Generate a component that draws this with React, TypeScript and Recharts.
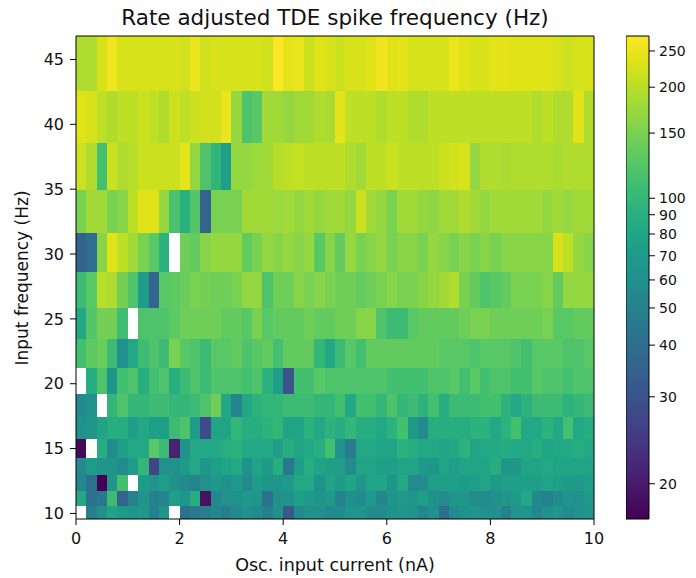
import * as React from "react";
import { ComposedChart, ReferenceArea, XAxis, YAxis } from "recharts";

// Osc. input current grid (nA), 50 columns of 0.2 nA
const currents = Array.from({ length: 50 }, (_, i) => +(i * 0.2).toFixed(1));
const colWidth = 0.2;

// row edges of the input frequency grid (Hz), bottom to top
const freqEdges = [
  9.57, 10.59, 11.75, 12.99, 14.28, 15.75, 17.41, 19.22, 21.23, 23.47, 25.86,
  28.59, 31.62, 34.97, 38.57, 42.59, 46.81,
];

// rate adjusted TDE spike frequency (Hz), one array per input frequency row
const hz10 = [null, 48, 61, 78, 71, 65, 69, 50, 65, null, 42, 45, 48, 54, 48, 57, 61, 57, 50, 61, 32, 57, 61, 61, 57, 57, 65, 65, 57, 57, 61, 65, 61, 54, 61, 40, 57, 61, 65, 61, 61, 50, 65, 65, 54, 61, 65, 57, 61, 65];
const hz11 = [82, 42, 45, 106, 36, 50, 65, 50, 52, 73, 65, 88, 19, 54, 61, 61, 69, 65, 42, 61, 61, 73, 69, 65, 69, 50, 61, 57, 69, 54, 65, 69, 65, 73, 61, 57, 65, 65, 57, 57, 61, 65, 69, 82, 54, 50, 57, 65, 61, 69];
const hz12 = [54, 40, 17, 65, 111, null, 71, 65, 73, 61, 57, 52, 61, 69, 61, 69, 57, 71, 65, 65, 69, 82, 82, 61, 78, 69, 78, 65, 78, 78, 65, 82, 57, 57, 73, 73, 73, 71, 73, 78, 69, 73, 73, 73, 73, 78, 73, 71, 69, 73];
const hz13 = [57, 71, 65, 65, 57, 71, 99, 27, 61, 61, 69, 82, 65, 73, 78, 82, 61, 78, 69, 88, 45, 73, 88, 78, 73, 73, 57, 78, 78, 73, 73, 78, 78, 69, 65, 78, 73, 78, 78, 78, 88, 65, 65, 78, 78, 82, 78, 78, 78, 78];
const hz15 = [18, null, 88, 57, 73, 82, 82, 125, 106, 21, 61, 82, 82, 82, 88, 93, 82, 82, 82, 73, 88, 78, 82, 88, 111, 61, 47, 82, 82, 78, 78, 93, 88, 82, 82, 78, 82, 93, 78, 82, 82, 88, 82, 82, 88, 78, 82, 82, 88, 82];
const hz16 = [61, 65, 78, 88, 88, 73, 82, 73, 73, 106, 118, 71, 28, 78, 78, 99, 88, 88, 93, 99, 78, 78, 93, 82, 93, 88, 99, 88, 88, 82, 93, 111, 69, 57, 88, 88, 88, 88, 93, 93, 82, 93, 111, 82, 82, 93, 82, 111, 82, 88];
const hz18 = [57, 61, null, 99, 118, 99, 99, 106, 106, 99, 99, 106, 118, 142, 82, 52, 82, 93, 99, 99, 106, 106, 106, 99, 99, 111, 82, 111, 111, 99, 118, 99, 106, 93, 111, 88, 106, 106, 106, 111, 111, 93, 82, 93, 106, 106, 106, 93, 99, 106];
const hz20 = [null, 88, 118, 65, 111, 118, 88, 111, 118, 88, 106, 118, 106, 118, 118, 118, 111, 118, 93, 73, 30, 111, 111, 125, 118, 118, 118, 118, 118, 118, 111, 111, 111, 111, 118, 118, 125, 111, 125, 111, 118, 118, 111, 111, 125, 118, 118, 111, 118, 118];
const hz22 = [111, 129, 137, 106, 61, 82, 106, 118, 106, 150, 125, 118, 106, 125, 125, 133, 118, 125, 133, 111, 133, 133, 133, 99, 82, 106, 125, 111, 133, 133, 133, 133, 133, 133, 133, 125, 125, 125, 118, 125, 125, 125, 118, 111, 125, 125, 125, 118, 118, 125];
const hz25 = [82, 122, 146, 146, 108, null, 118, 118, 118, 129, 142, 142, 142, 142, 133, 133, 125, 150, 125, 133, 133, 133, 142, 133, 133, 142, 142, 160, 160, 118, 106, 106, 125, 133, 133, 133, 133, 142, 150, 150, 142, 142, 142, 142, 142, 150, 125, 125, 133, 133];
const hz27 = [106, 125, 198, 191, 146, 118, 71, 36, 125, 129, 137, 150, 146, 142, 142, 150, 170, 170, 118, 142, 142, 160, 150, 160, 150, 142, 142, 133, 142, 150, 160, 150, 150, 160, 170, 180, 191, 150, 133, 118, 125, 133, 150, 150, 150, 160, 133, 170, 170, 170];
const hz30 = [36, 40, 160, 236, 204, 180, 150, 125, 93, null, 142, 133, 160, 170, 170, 170, 133, 150, 170, 160, 170, 160, 170, 125, 160, 133, 170, 150, 160, 170, 150, 160, 160, 150, 170, 160, 150, 160, 150, 160, 150, 160, 160, 160, 160, 160, 229, 204, 170, 160];
const hz33 = [150, 180, 180, 150, 160, 204, 236, 236, 170, 115, 90, 122, 36, 150, 150, 150, 180, 180, 180, 175, 180, 170, 180, 170, 180, 180, 170, 216, 180, 170, 150, 180, 180, 170, 165, 180, 180, 191, 180, 170, 180, 180, 180, 180, 180, 170, 180, 170, 180, 180];
const hz37 = [216, 191, 111, 216, 191, 198, 216, 216, 216, 216, 243, 170, 118, 97, 73, 170, 170, 175, 180, 198, 204, 210, 204, 204, 204, 204, 191, 180, 204, 204, 216, 204, 204, 204, 204, 216, 222, 229, 170, 191, 191, 186, 191, 191, 191, 191, 186, 191, 191, 191];
const hz41 = [236, 229, 204, 191, 204, 204, 216, 204, 191, 216, 204, 216, 222, 222, 251, 170, 118, 125, 180, 180, 170, 180, 180, 191, 186, 243, 204, 204, 204, 191, 204, 204, 191, 191, 204, 204, 204, 204, 204, 204, 204, 204, 204, 204, 191, 204, 191, 191, 236, 191];
const hz45 = [191, 191, 229, 258, 229, 229, 229, 229, 229, 229, 222, 251, 222, 229, 229, 229, 229, 229, 222, 270, 243, 251, 216, 236, 229, 216, 229, 229, 236, 258, 236, 243, 229, 229, 229, 229, 251, 236, 229, 229, 243, 243, 236, 236, 236, 236, 229, 216, 229, 229];

const rows = [hz10, hz11, hz12, hz13, hz15, hz16, hz18, hz20, hz22, hz25, hz27, hz30, hz33, hz37, hz41, hz45];

const xTicks = [0, 2, 4, 6, 8, 10];
const yTicks = [10, 15, 20, 25, 30, 35, 40, 45];
const cbTicks = [20, 30, 40, 50, 60, 70, 80, 90, 100, 150, 200, 250];

// colour normalisation (value -> 0..1)
const normStops: [number, number][] = [
  [17.2, 0], [20, 0.073], [30, 0.253], [40, 0.36], [50, 0.437], [60, 0.495],
  [70, 0.545], [80, 0.59], [90, 0.63], [100, 0.664], [150, 0.799],
  [200, 0.894], [250, 0.969], [273, 1],
];

function norm(v: number) {
  if (v <= normStops[0][0]) return 0;
  for (let i = 1; i < normStops.length; i++) {
    const [v1, t1] = normStops[i];
    if (v <= v1) {
      const [v0, t0] = normStops[i - 1];
      return t0 + ((Math.log(v) - Math.log(v0)) / (Math.log(v1) - Math.log(v0))) * (t1 - t0);
    }
  }
  return 1;
}

const viridisHex = [
  "#440154", "#471365", "#482475", "#463480", "#414487", "#3b528b", "#355f8d",
  "#2f6c8e", "#2a788e", "#25848e", "#21918c", "#1e9c89", "#22a884", "#2fb47c",
  "#44bf70", "#5ec962", "#7ad151", "#9bd93c", "#bddf26", "#dfe318", "#fde725",
];
const viridisRgb = viridisHex.map((h) => [1, 3, 5].map((i) => parseInt(h.slice(i, i + 2), 16)));

function viridis(t: number) {
  const s = Math.max(0, Math.min(1, t)) * (viridisRgb.length - 1);
  const i = Math.min(Math.floor(s), viridisRgb.length - 2);
  const f = s - i;
  const c = viridisRgb[i].map((a, k) => Math.round(a + (viridisRgb[i + 1][k] - a) * f));
  return `rgb(${c[0]},${c[1]},${c[2]})`;
}

const cells = rows.flatMap((row, r) =>
  row.map((v, c) => ({ r, c, v })).filter((d) => d.v != null)
);

const font = '"DejaVu Sans", sans-serif';
const tickStyle = { fill: "#111", fontSize: 16, fontFamily: font };

// crisp cell so neighbouring cells meet without seams
const CellShape = (p: any) => (
  <rect
    x={p.x}
    y={p.y}
    width={p.width}
    height={p.height}
    fill={p.fill}
    stroke="none"
    shapeRendering="crispEdges"
  />
);

function Heatmap() {
  return (
    <ComposedChart
      width={696}
      height={578}
      data={cells}
      margin={{ top: 36, right: 102, bottom: 0, left: 16 }}
    >
      <XAxis
        type="number"
        dataKey="c"
        domain={[0, 10]}
        ticks={xTicks}
        allowDataOverflow
        axisLine={false}
        tickLine={{ stroke: "#000" }}
        tickSize={6}
        tickMargin={8}
        tick={tickStyle}
        height={59}
      />
      <YAxis
        type="number"
        dataKey="r"
        domain={[freqEdges[0], freqEdges[freqEdges.length - 1]]}
        ticks={yTicks}
        allowDataOverflow
        axisLine={false}
        tickLine={{ stroke: "#000" }}
        tickSize={6}
        tickMargin={6}
        tick={tickStyle}
        width={60}
      />
      {cells.map((d) => (
        <ReferenceArea
          key={`${d.r}-${d.c}`}
          x1={currents[d.c]}
          x2={currents[d.c] + colWidth}
          y1={freqEdges[d.r]}
          y2={freqEdges[d.r + 1]}
          fill={viridis(norm(d.v as number))}
          fillOpacity={1}
          ifOverflow="visible"
          shape={CellShape}
        />
      ))}
      <ReferenceArea
        x1={0}
        x2={10}
        y1={freqEdges[0]}
        y2={freqEdges[freqEdges.length - 1]}
        fill="none"
        fillOpacity={0}
        stroke="#000"
        strokeWidth={1}
        ifOverflow="visible"
      />
    </ComposedChart>
  );
}

function ColorBar() {
  const stops = viridisHex.map((h, i) => (
    <stop key={h} offset={`${(i / (viridisHex.length - 1)) * 100}%`} stopColor={h} />
  ));
  return (
    <ComposedChart
      width={70}
      height={578}
      data={[{ x: 0, y: 0 }]}
      margin={{ top: 36, right: 0, bottom: 59, left: 0 }}
    >
      <defs>
        <linearGradient id="cbar" x1="0" y1="1" x2="0" y2="0">
          {stops}
        </linearGradient>
      </defs>
      <XAxis type="number" dataKey="x" domain={[0, 1]} hide />
      <YAxis
        type="number"
        dataKey="y"
        orientation="right"
        domain={[0, 1]}
        ticks={cbTicks.map(norm)}
        interval={0}
        tickFormatter={(v: number) =>
          String(cbTicks.find((t) => Math.abs(norm(t) - v) < 1e-6) ?? "")
        }
        axisLine={false}
        tickLine={{ stroke: "#000" }}
        tickSize={6}
        tickMargin={4}
        tick={{ ...tickStyle, fontSize: 14 }}
        width={47}
      />
      <ReferenceArea
        x1={0}
        x2={1}
        y1={0}
        y2={1}
        fill="url(#cbar)"
        fillOpacity={1}
        stroke="#000"
        strokeWidth={1}
        ifOverflow="visible"
      />
    </ComposedChart>
  );
}

export default function App() {
  return (
    <div style={{ position: "relative", width: 696, height: 578, background: "#fff", fontFamily: font, color: "#111" }}>
      <style>{"body{margin:0}"}</style>
      <div style={{ position: "absolute", left: 56, width: 558, top: 5, textAlign: "center", fontSize: 21.5, lineHeight: "26px" }}>
        Rate adjusted TDE spike frequency (Hz)
      </div>
      <div style={{ position: "absolute", left: 0, top: 0 }}>
        <Heatmap />
      </div>
      <div style={{ position: "absolute", left: 626, top: 0 }}>
        <ColorBar />
      </div>
      <div style={{ position: "absolute", left: 56, width: 558, top: 554, textAlign: "center", fontSize: 17.5, lineHeight: "22px" }}>
        Osc. input current (nA)
      </div>
      <div
        style={{
          position: "absolute",
          left: 22,
          top: 278,
          transform: "translate(-50%, -50%) rotate(-90deg)",
          whiteSpace: "nowrap",
          fontSize: 17,
          lineHeight: "20px",
        }}
      >
        Input frequency (Hz)
      </div>
    </div>
  );
}
